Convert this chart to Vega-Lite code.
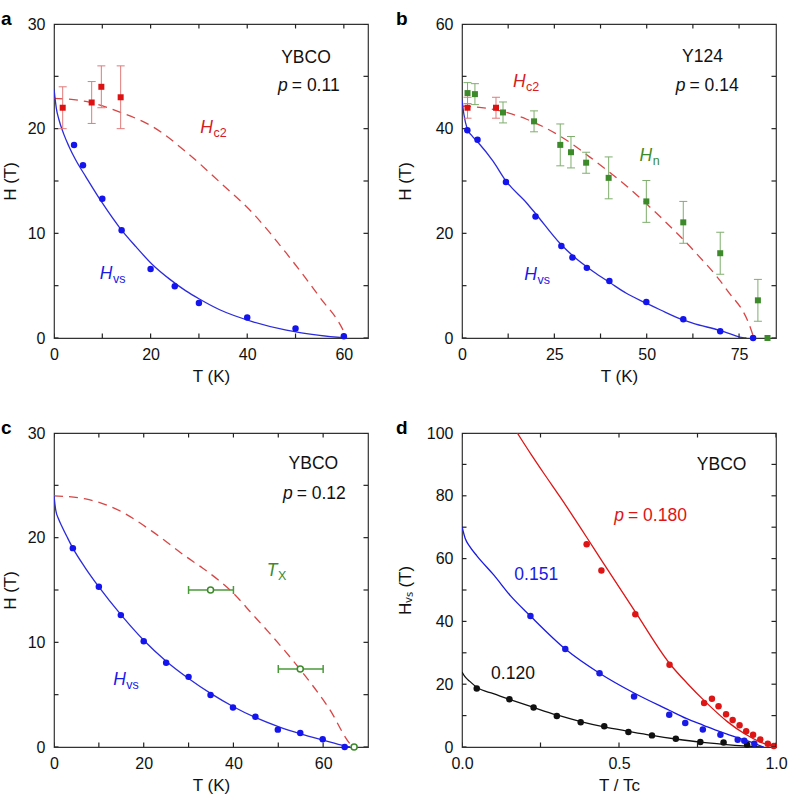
{
  "$schema": "https://vega.github.io/schema/vega-lite/v6.json",
  "padding": {"left": 0, "top": 9, "right": 0, "bottom": 0},
  "spacing": 32,
  "config": {
    "font": "Liberation Sans",
    "view": {"stroke": "#333333", "strokeWidth": 1.2},
    "axis": {"domain": false, "ticks": false, "tickSize": 0, "grid": false, "labelFont": "Liberation Sans", "labelFontSize": 16, "labelColor": "#111111", "titleFont": "Liberation Sans", "titleFontSize": 17, "titleFontWeight": "normal", "titleColor": "#111111", "labelOverlap": false, "labelFlush": false, "labelBound": false},
    "axisX": {"labelPadding": 8},
    "axisY": {"labelPadding": 9},
    "tick": {"thickness": 1.2, "size": 9, "color": "#222222", "opacity": 1},
    "title": {"font": "Liberation Sans", "fontSize": 19, "fontWeight": "bold", "color": "#000000", "anchor": "start", "frame": "bounds", "baseline": "alphabetic", "offset": -12.7},
    "text": {"font": "Liberation Sans"}
  },
  "datasets": {
    "aXt": [{"v":0},{"v":10},{"v":20},{"v":30},{"v":40},{"v":50},{"v":60}],
    "aYt": [{"v":0},{"v":5},{"v":10},{"v":15},{"v":20},{"v":25},{"v":30}],
    "bXt": [{"v":0},{"v":12.5},{"v":25},{"v":37.5},{"v":50},{"v":62.5},{"v":75}],
    "bYt": [{"v":0},{"v":10},{"v":20},{"v":30},{"v":40},{"v":50},{"v":60}],
    "dXt": [{"v":0},{"v":0.25},{"v":0.5},{"v":0.75},{"v":1}],
    "dYt": [{"v":0},{"v":10},{"v":20},{"v":30},{"v":40},{"v":50},{"v":60},{"v":70},{"v":80},{"v":90},{"v":100}],
    "aPts": [{"T":4.15,"H":18.45},{"T":6,"H":16.5},{"T":10,"H":13.3},{"T":14,"H":10.3},{"T":20,"H":6.6},{"T":25,"H":4.95},{"T":30,"H":3.35},{"T":40,"H":1.95},{"T":50,"H":0.9},{"T":60,"H":0.17}],
    "aFit": [{"T":0,"H":23.8},{"T":0.5,"H":21.9},{"T":1,"H":20.9},{"T":2,"H":19.5},{"T":3.1,"H":18.3},{"T":4.5,"H":17.0},{"T":6.6,"H":15.4},{"T":10,"H":12.9},{"T":13.5,"H":10.6},{"T":17,"H":8.7},{"T":20.4,"H":7.0},{"T":24,"H":5.6},{"T":27.3,"H":4.5},{"T":30,"H":3.75},{"T":34.3,"H":2.7},{"T":41.2,"H":1.55},{"T":48.1,"H":0.75},{"T":55,"H":0.25},{"T":60.3,"H":0}],
    "aHc2": [{"T":0,"H":22.9},{"T":6.6,"H":22.6},{"T":13.5,"H":21.6},{"T":20.4,"H":20.2},{"T":27.3,"H":17.8},{"T":34.3,"H":14.9},{"T":41.2,"H":11.9},{"T":48.1,"H":8.1},{"T":55,"H":3.9},{"T":59.9,"H":0.7},{"T":60.6,"H":0}],
    "aSq": [{"T":1.8,"H":22.0,"lo":20,"hi":24},{"T":7.8,"H":22.5,"lo":20.5,"hi":24.5},{"T":9.8,"H":24.0,"lo":22,"hi":26},{"T":13.8,"H":23.0,"lo":20,"hi":26}],
    "bPts": [{"T":1.45,"H":39.7},{"T":4.2,"H":37.9},{"T":11.9,"H":29.8},{"T":19.9,"H":23.2},{"T":26.9,"H":17.6},{"T":29.9,"H":15.4},{"T":33.8,"H":13.4},{"T":39.9,"H":10.9},{"T":49.9,"H":6.9},{"T":59.9,"H":3.6},{"T":69.9,"H":1.3},{"T":78.8,"H":0}],
    "bFit": [{"T":0,"H":45.6},{"T":0.5,"H":42.8},{"T":1.45,"H":39.9},{"T":2.5,"H":38.8},{"T":4.2,"H":37.5},{"T":8.4,"H":33.8},{"T":11.9,"H":30.0},{"T":17.5,"H":25.8},{"T":20,"H":23.7},{"T":26.5,"H":18.1},{"T":30,"H":15.7},{"T":35.5,"H":12.7},{"T":40,"H":10.6},{"T":44.6,"H":8.5},{"T":50,"H":6.6},{"T":53.6,"H":5.4},{"T":60,"H":3.4},{"T":62.6,"H":2.8},{"T":70,"H":1.4},{"T":73,"H":0.7},{"T":76,"H":0.05},{"T":77,"H":0}],
    "bHc2": [{"T":0,"H":44.3},{"T":8.4,"H":43.7},{"T":17.5,"H":41.8},{"T":26.5,"H":38.6},{"T":35.5,"H":34.1},{"T":44.6,"H":29.0},{"T":53.6,"H":23.2},{"T":62.6,"H":16.8},{"T":71.7,"H":9.2},{"T":78,"H":2.1},{"T":79,"H":0}],
    "bRed": [{"T":1.5,"H":44.0,"lo":42,"hi":46},{"T":9.2,"H":44.0,"lo":42,"hi":46}],
    "bGreen": [{"T":1.5,"H":46.8,"lo":44.8,"hi":48.8},{"T":3.5,"H":46.6,"lo":44.6,"hi":48.6},{"T":11.1,"H":43.1,"lo":41.1,"hi":45.1},{"T":19.5,"H":41.4,"lo":39.4,"hi":43.4},{"T":26.6,"H":36.9,"lo":32.9,"hi":40.9},{"T":29.5,"H":35.5,"lo":32.5,"hi":38.5},{"T":33.6,"H":33.5,"lo":31.5,"hi":35.5},{"T":39.7,"H":30.6,"lo":26.6,"hi":34.6},{"T":49.9,"H":26.1,"lo":22.1,"hi":30.1},{"T":59.9,"H":22.1,"lo":18.1,"hi":26.1},{"T":69.9,"H":16.2,"lo":12.2,"hi":20.2},{"T":80.1,"H":7.2,"lo":3.2,"hi":11.2},{"T":82.7,"H":0,"lo":null,"hi":null}],
    "cPts": [{"T":4.2,"H":19.0},{"T":10,"H":15.3},{"T":14.9,"H":12.6},{"T":20,"H":10.1},{"T":25,"H":8.06},{"T":30,"H":6.7},{"T":34.9,"H":4.96},{"T":39.9,"H":3.77},{"T":44.9,"H":2.88},{"T":49.9,"H":1.66},{"T":54.9,"H":1.34},{"T":59.9,"H":0.74},{"T":64.8,"H":0}],
    "cFit": [{"T":0,"H":24.0},{"T":0.4,"H":22.6},{"T":1,"H":21.8},{"T":1.85,"H":21.0},{"T":3,"H":20.0},{"T":4.2,"H":19.0},{"T":7,"H":17.1},{"T":10,"H":15.3},{"T":15,"H":12.6},{"T":20,"H":10.2},{"T":25,"H":8.2},{"T":30,"H":6.55},{"T":35,"H":5.1},{"T":40,"H":3.85},{"T":45,"H":2.8},{"T":50,"H":1.95},{"T":55,"H":1.25},{"T":60,"H":0.65},{"T":64.8,"H":0.1},{"T":66,"H":0}],
    "cHc2": [{"T":0,"H":24.0},{"T":7.05,"H":23.7},{"T":14.5,"H":22.6},{"T":21.9,"H":20.6},{"T":29.4,"H":18.2},{"T":33.1,"H":17.1},{"T":36.8,"H":15.9},{"T":40.2,"H":14.6},{"T":44,"H":12.8},{"T":48,"H":10.9},{"T":54.7,"H":7.5},{"T":61.3,"H":3.7},{"T":66.5,"H":0.1},{"T":66.8,"H":0}],
    "cTx": [{"T":34.9,"H":15.0,"lo":30,"hi":40},{"T":54.9,"H":7.45,"lo":50,"hi":60},{"T":66.9,"H":0,"lo":null,"hi":null}],
    "dPts": [
      {"x":0.047,"y":18.6,"k":"0.120"},{"x":0.151,"y":15.2,"k":"0.120"},{"x":0.228,"y":12.6,"k":"0.120"},{"x":0.302,"y":9.9,"k":"0.120"},{"x":0.378,"y":7.9,"k":"0.120"},{"x":0.453,"y":6.6,"k":"0.120"},{"x":0.53,"y":4.8,"k":"0.120"},{"x":0.605,"y":3.7,"k":"0.120"},{"x":0.681,"y":2.66,"k":"0.120"},{"x":0.759,"y":1.6,"k":"0.120"},{"x":0.833,"y":1.4,"k":"0.120"},{"x":0.908,"y":0.75,"k":"0.120"},
      {"x":0.218,"y":41.7,"k":"0.151"},{"x":0.329,"y":31.2,"k":"0.151"},{"x":0.438,"y":23.5,"k":"0.151"},{"x":0.548,"y":16.1,"k":"0.151"},{"x":0.66,"y":10.3,"k":"0.151"},{"x":0.711,"y":7.66,"k":"0.151"},{"x":0.767,"y":5.6,"k":"0.151"},{"x":0.823,"y":3.9,"k":"0.151"},{"x":0.878,"y":2.3,"k":"0.151"},{"x":0.899,"y":2.0,"k":"0.151"},{"x":0.931,"y":1.06,"k":"0.151"},
      {"x":0.397,"y":64.6,"k":"0.180"},{"x":0.444,"y":56.2,"k":"0.180"},{"x":0.552,"y":42.3,"k":"0.180"},{"x":0.661,"y":26.2,"k":"0.180"},{"x":0.771,"y":14.0,"k":"0.180"},{"x":0.796,"y":15.4,"k":"0.180"},{"x":0.817,"y":13.0,"k":"0.180"},{"x":0.841,"y":10.4,"k":"0.180"},{"x":0.862,"y":8.6,"k":"0.180"},{"x":0.884,"y":6.9,"k":"0.180"},{"x":0.905,"y":5.0,"k":"0.180"},{"x":0.927,"y":3.9,"k":"0.180"},{"x":0.95,"y":2.4,"k":"0.180"},{"x":0.974,"y":1.06,"k":"0.180"},{"x":0.993,"y":0.3,"k":"0.180"}
    ],
    "dFit": [
      {"x":0,"y":23.9,"k":"0.120"},{"x":0.01,"y":22.3,"k":"0.120"},{"x":0.025,"y":20.9,"k":"0.120"},{"x":0.047,"y":19.0,"k":"0.120"},{"x":0.1,"y":17.0,"k":"0.120"},{"x":0.151,"y":15.2,"k":"0.120"},{"x":0.228,"y":12.6,"k":"0.120"},{"x":0.302,"y":10.2,"k":"0.120"},{"x":0.378,"y":8.1,"k":"0.120"},{"x":0.453,"y":6.4,"k":"0.120"},{"x":0.53,"y":5.0,"k":"0.120"},{"x":0.605,"y":3.7,"k":"0.120"},{"x":0.681,"y":2.55,"k":"0.120"},{"x":0.759,"y":1.55,"k":"0.120"},{"x":0.833,"y":0.85,"k":"0.120"},{"x":0.908,"y":0.3,"k":"0.120"},{"x":0.96,"y":0,"k":"0.120"},
      {"x":0,"y":70.2,"k":"0.151"},{"x":0.01,"y":66.5,"k":"0.151"},{"x":0.025,"y":63.8,"k":"0.151"},{"x":0.048,"y":60.8,"k":"0.151"},{"x":0.101,"y":54.8,"k":"0.151"},{"x":0.154,"y":48.2,"k":"0.151"},{"x":0.218,"y":41.7,"k":"0.151"},{"x":0.329,"y":31.2,"k":"0.151"},{"x":0.438,"y":23.5,"k":"0.151"},{"x":0.548,"y":17.2,"k":"0.151"},{"x":0.66,"y":11.7,"k":"0.151"},{"x":0.714,"y":9.1,"k":"0.151"},{"x":0.769,"y":6.9,"k":"0.151"},{"x":0.823,"y":4.8,"k":"0.151"},{"x":0.879,"y":2.9,"k":"0.151"},{"x":0.933,"y":1.1,"k":"0.151"},{"x":0.96,"y":0,"k":"0.151"},
      {"x":0.163,"y":102,"k":"0.180"},{"x":0.176,"y":100,"k":"0.180"},{"x":0.22,"y":93.2,"k":"0.180"},{"x":0.261,"y":87.1,"k":"0.180"},{"x":0.314,"y":79.4,"k":"0.180"},{"x":0.397,"y":66.8,"k":"0.180"},{"x":0.444,"y":59.5,"k":"0.180"},{"x":0.552,"y":43.0,"k":"0.180"},{"x":0.661,"y":26.6,"k":"0.180"},{"x":0.72,"y":20.0,"k":"0.180"},{"x":0.773,"y":14.6,"k":"0.180"},{"x":0.846,"y":8.0,"k":"0.180"},{"x":0.9,"y":4.2,"k":"0.180"},{"x":0.952,"y":1.5,"k":"0.180"},{"x":1.0,"y":0,"k":"0.180"}
    ],
    "labels": [
      {"panel":"a","x":46.2,"y":26.3,"it":"","sub":"","norm":"YBCO","k":"text"},
      {"panel":"a","x":48.4,"y":23.6,"it":"p","sub":"","norm":"= 0.11","k":"text"},
      {"panel":"a","x":32.9,"y":19.6,"it":"H","sub":"c2","norm":"","k":"Hc2"},
      {"panel":"a","x":12.1,"y":5.6,"it":"H","sub":"vs","norm":"","k":"Hvs"},
      {"panel":"b","x":58.5,"y":52.8,"it":"","sub":"","norm":"Y124","k":"text"},
      {"panel":"b","x":60.5,"y":47.2,"it":"p","sub":"","norm":"= 0.14","k":"text"},
      {"panel":"b","x":17.2,"y":47.9,"it":"H","sub":"c2","norm":"","k":"Hc2"},
      {"panel":"b","x":51.5,"y":33.8,"it":"H","sub":"n","norm":"","k":"Hn"},
      {"panel":"b","x":20.3,"y":11.1,"it":"H","sub":"vs","norm":"","k":"Hvs"},
      {"panel":"c","x":51.4,"y":26.55,"it":"","sub":"","norm":"YBCO","k":"text"},
      {"panel":"c","x":53.2,"y":23.7,"it":"p","sub":"","norm":"= 0.12","k":"text"},
      {"panel":"c","x":49.8,"y":16.3,"it":"T","sub":"X","norm":"","k":"TX"},
      {"panel":"c","x":16.0,"y":5.9,"it":"H","sub":"vs","norm":"","k":"Hvs"},
      {"panel":"d","x":0.735,"y":88.3,"it":"","sub":"","norm":"YBCO","k":"text"},
      {"panel":"d","x":0.516,"y":72.0,"it":"p","sub":"","norm":"= 0.180","k":"0.180"},
      {"panel":"d","x":0.154,"y":53.2,"it":"","sub":"","norm":"0.151","k":"0.151"},
      {"panel":"d","x":0.080,"y":21.6,"it":"","sub":"","norm":"0.120","k":"0.120"}
    ]
  },
  "vconcat": [
    {
      "spacing": 26,
      "hconcat": [
        {
          "width": 314, "height": 314,
          "title": {"text": "a"},
          "layer": [
            {"data": {"name": "aHc2"},
             "mark": {"type": "line", "color": "#d94545", "strokeWidth": 1.3, "strokeDash": [9, 6], "interpolate": "monotone", "clip": true},
             "encoding": {
               "x": {"field": "T", "type": "quantitative", "scale": {"domain": [0, 65], "nice": false, "zero": false},
                     "axis": {"orient": "bottom", "values": [0, 20, 40, 60], "title": "T (K)", "minExtent": 24, "maxExtent": 24, "titlePadding": 6.5}},
               "y": {"field": "H", "type": "quantitative", "scale": {"domain": [0, 30], "nice": false, "zero": false},
                     "axis": {"orient": "left", "values": [0, 10, 20, 30], "title": "H (T)", "minExtent": 30, "maxExtent": 30, "titlePadding": 5}}}},
            {"data": {"name": "aFit"},
             "mark": {"type": "line", "color": "#2b2bdd", "strokeWidth": 1.3, "interpolate": "monotone", "clip": true},
             "encoding": {
               "x": {"field": "T", "type": "quantitative", "axis": {"orient": "top", "values": [0, 20, 40, 60], "labels": false, "title": null, "minExtent": 0, "maxExtent": 0}},
               "y": {"field": "H", "type": "quantitative", "axis": {"orient": "right", "values": [0, 10, 20, 30], "labels": false, "title": null, "minExtent": 0, "maxExtent": 0}}}},
            {"data": {"name": "aXt"}, "mark": {"type": "tick", "orient": "vertical", "clip": true},
             "encoding": {"x": {"field": "v", "type": "quantitative", "axis": null}, "y": {"datum": 0, "type": "quantitative", "axis": null}}},
            {"data": {"name": "aXt"}, "mark": {"type": "tick", "orient": "vertical", "clip": true},
             "encoding": {"x": {"field": "v", "type": "quantitative", "axis": null}, "y": {"datum": 30, "type": "quantitative", "axis": null}}},
            {"data": {"name": "aYt"}, "mark": {"type": "tick", "orient": "horizontal", "clip": true},
             "encoding": {"y": {"field": "v", "type": "quantitative", "axis": null}, "x": {"datum": 0, "type": "quantitative", "axis": null}}},
            {"data": {"name": "aYt"}, "mark": {"type": "tick", "orient": "horizontal", "clip": true},
             "encoding": {"y": {"field": "v", "type": "quantitative", "axis": null}, "x": {"datum": 65, "type": "quantitative", "axis": null}}},
            {"data": {"name": "aSq"},
             "mark": {"type": "errorbar", "rule": {"color": "#e07a7a", "strokeWidth": 1}, "ticks": {"color": "#e07a7a", "size": 8, "thickness": 1}},
             "encoding": {
               "x": {"field": "T", "type": "quantitative", "axis": null},
               "y": {"field": "lo", "type": "quantitative", "axis": null},
               "y2": {"field": "hi"}}},
            {"data": {"name": "aSq"},
             "mark": {"type": "square", "color": "#dd1111", "size": 36, "opacity": 1},
             "encoding": {"x": {"field": "T", "type": "quantitative", "axis": null}, "y": {"field": "H", "type": "quantitative", "axis": null}}},
            {"data": {"name": "aPts"},
             "mark": {"type": "circle", "color": "#1414ee", "size": 42, "opacity": 1},
             "encoding": {"x": {"field": "T", "type": "quantitative", "axis": null}, "y": {"field": "H", "type": "quantitative", "axis": null}}},
            {"data": {"name": "labels"},
             "transform": [{"filter": "datum.panel === 'a'"}],
             "encoding": {
               "x": {"field": "x", "type": "quantitative", "axis": null},
               "y": {"field": "y", "type": "quantitative", "axis": null},
               "color": {"field": "k", "type": "nominal", "legend": null, "scale": {"domain": ["text", "Hvs", "Hc2", "Hn", "TX", "0.180", "0.151", "0.120"], "range": ["#111111", "#1a1ae6", "#d42020", "#3d8a2b", "#3d8a2b", "#dd1515", "#1a1ae6", "#111111"]}}},
             "layer": [
               {"mark": {"type": "text", "fontStyle": "italic", "fontSize": 17.5, "align": "right", "baseline": "alphabetic"}, "encoding": {"text": {"field": "it", "type": "nominal"}}},
               {"mark": {"type": "text", "fontSize": 12.5, "align": "left", "baseline": "alphabetic", "dy": 4, "dx": 0.5}, "encoding": {"text": {"field": "sub", "type": "nominal"}}},
               {"mark": {"type": "text", "fontSize": 17.5, "align": "left", "baseline": "alphabetic", "dx": 4}, "encoding": {"text": {"field": "norm", "type": "nominal"}}}
             ]}
          ]
        },
        {
          "width": 314, "height": 314,
          "title": {"text": "b"},
          "layer": [
            {"data": {"name": "bHc2"},
             "mark": {"type": "line", "color": "#d94545", "strokeWidth": 1.3, "strokeDash": [9, 6], "interpolate": "monotone", "clip": true},
             "encoding": {
               "x": {"field": "T", "type": "quantitative", "scale": {"domain": [0, 85], "nice": false, "zero": false},
                     "axis": {"orient": "bottom", "values": [0, 25, 50, 75], "title": "T (K)", "minExtent": 24, "maxExtent": 24, "titlePadding": 6.5}},
               "y": {"field": "H", "type": "quantitative", "scale": {"domain": [0, 60], "nice": false, "zero": false},
                     "axis": {"orient": "left", "values": [0, 20, 40, 60], "title": "H (T)", "minExtent": 30, "maxExtent": 30, "titlePadding": 18}}}},
            {"data": {"name": "bFit"},
             "mark": {"type": "line", "color": "#2b2bdd", "strokeWidth": 1.3, "interpolate": "monotone", "clip": true},
             "encoding": {
               "x": {"field": "T", "type": "quantitative", "axis": {"orient": "top", "values": [0, 25, 50, 75], "labels": false, "title": null, "minExtent": 0, "maxExtent": 0}},
               "y": {"field": "H", "type": "quantitative", "axis": {"orient": "right", "values": [0, 20, 40, 60], "labels": false, "title": null, "minExtent": 0, "maxExtent": 0}}}},
            {"data": {"name": "bXt"}, "mark": {"type": "tick", "orient": "vertical", "clip": true},
             "encoding": {"x": {"field": "v", "type": "quantitative", "axis": null}, "y": {"datum": 0, "type": "quantitative", "axis": null}}},
            {"data": {"name": "bXt"}, "mark": {"type": "tick", "orient": "vertical", "clip": true},
             "encoding": {"x": {"field": "v", "type": "quantitative", "axis": null}, "y": {"datum": 60, "type": "quantitative", "axis": null}}},
            {"data": {"name": "bYt"}, "mark": {"type": "tick", "orient": "horizontal", "clip": true},
             "encoding": {"y": {"field": "v", "type": "quantitative", "axis": null}, "x": {"datum": 0, "type": "quantitative", "axis": null}}},
            {"data": {"name": "bYt"}, "mark": {"type": "tick", "orient": "horizontal", "clip": true},
             "encoding": {"y": {"field": "v", "type": "quantitative", "axis": null}, "x": {"datum": 85, "type": "quantitative", "axis": null}}},
            {"data": {"name": "bGreen"},
             "transform": [{"filter": "isValid(datum.lo)"}],
             "mark": {"type": "errorbar", "rule": {"color": "#7fae6e", "strokeWidth": 1}, "ticks": {"color": "#7fae6e", "size": 8, "thickness": 1}},
             "encoding": {
               "x": {"field": "T", "type": "quantitative", "axis": null},
               "y": {"field": "lo", "type": "quantitative", "axis": null},
               "y2": {"field": "hi"}}},
            {"data": {"name": "bRed"},
             "mark": {"type": "errorbar", "rule": {"color": "#e07a7a", "strokeWidth": 1}, "ticks": {"color": "#e07a7a", "size": 8, "thickness": 1}},
             "encoding": {
               "x": {"field": "T", "type": "quantitative", "axis": null},
               "y": {"field": "lo", "type": "quantitative", "axis": null},
               "y2": {"field": "hi"}}},
            {"data": {"name": "bGreen"},
             "mark": {"type": "square", "color": "#3d8a2b", "size": 36, "opacity": 1},
             "encoding": {"x": {"field": "T", "type": "quantitative", "axis": null}, "y": {"field": "H", "type": "quantitative", "axis": null}}},
            {"data": {"name": "bRed"},
             "mark": {"type": "square", "color": "#dd1111", "size": 36, "opacity": 1},
             "encoding": {"x": {"field": "T", "type": "quantitative", "axis": null}, "y": {"field": "H", "type": "quantitative", "axis": null}}},
            {"data": {"name": "bPts"},
             "mark": {"type": "circle", "color": "#1414ee", "size": 42, "opacity": 1},
             "encoding": {"x": {"field": "T", "type": "quantitative", "axis": null}, "y": {"field": "H", "type": "quantitative", "axis": null}}},
            {"data": {"name": "labels"},
             "transform": [{"filter": "datum.panel === 'b'"}],
             "encoding": {
               "x": {"field": "x", "type": "quantitative", "axis": null},
               "y": {"field": "y", "type": "quantitative", "axis": null},
               "color": {"field": "k", "type": "nominal", "legend": null, "scale": {"domain": ["text", "Hvs", "Hc2", "Hn", "TX", "0.180", "0.151", "0.120"], "range": ["#111111", "#1a1ae6", "#d42020", "#3d8a2b", "#3d8a2b", "#dd1515", "#1a1ae6", "#111111"]}}},
             "layer": [
               {"mark": {"type": "text", "fontStyle": "italic", "fontSize": 17.5, "align": "right", "baseline": "alphabetic"}, "encoding": {"text": {"field": "it", "type": "nominal"}}},
               {"mark": {"type": "text", "fontSize": 12.5, "align": "left", "baseline": "alphabetic", "dy": 4, "dx": 0.5}, "encoding": {"text": {"field": "sub", "type": "nominal"}}},
               {"mark": {"type": "text", "fontSize": 17.5, "align": "left", "baseline": "alphabetic", "dx": 4}, "encoding": {"text": {"field": "norm", "type": "nominal"}}}
             ]}
          ]
        }
      ]
    },
    {
      "spacing": 26,
      "hconcat": [
        {
          "width": 314, "height": 314,
          "title": {"text": "c"},
          "layer": [
            {"data": {"name": "cHc2"},
             "mark": {"type": "line", "color": "#d94545", "strokeWidth": 1.3, "strokeDash": [9, 6], "interpolate": "monotone", "clip": true},
             "encoding": {
               "x": {"field": "T", "type": "quantitative", "scale": {"domain": [0, 70], "nice": false, "zero": false},
                     "axis": {"orient": "bottom", "values": [0, 20, 40, 60], "title": "T (K)", "minExtent": 24, "maxExtent": 24, "titlePadding": 6.5}},
               "y": {"field": "H", "type": "quantitative", "scale": {"domain": [0, 30], "nice": false, "zero": false},
                     "axis": {"orient": "left", "values": [0, 10, 20, 30], "title": "H (T)", "minExtent": 30, "maxExtent": 30, "titlePadding": 5}}}},
            {"data": {"name": "cFit"},
             "mark": {"type": "line", "color": "#2b2bdd", "strokeWidth": 1.3, "interpolate": "monotone", "clip": true},
             "encoding": {
               "x": {"field": "T", "type": "quantitative", "axis": {"orient": "top", "values": [0, 20, 40, 60], "labels": false, "title": null, "minExtent": 0, "maxExtent": 0}},
               "y": {"field": "H", "type": "quantitative", "axis": {"orient": "right", "values": [0, 10, 20, 30], "labels": false, "title": null, "minExtent": 0, "maxExtent": 0}}}},
            {"data": {"name": "aXt"}, "mark": {"type": "tick", "orient": "vertical", "clip": true},
             "encoding": {"x": {"field": "v", "type": "quantitative", "axis": null}, "y": {"datum": 0, "type": "quantitative", "axis": null}}},
            {"data": {"name": "aXt"}, "mark": {"type": "tick", "orient": "vertical", "clip": true},
             "encoding": {"x": {"field": "v", "type": "quantitative", "axis": null}, "y": {"datum": 30, "type": "quantitative", "axis": null}}},
            {"data": {"name": "aYt"}, "mark": {"type": "tick", "orient": "horizontal", "clip": true},
             "encoding": {"y": {"field": "v", "type": "quantitative", "axis": null}, "x": {"datum": 0, "type": "quantitative", "axis": null}}},
            {"data": {"name": "aYt"}, "mark": {"type": "tick", "orient": "horizontal", "clip": true},
             "encoding": {"y": {"field": "v", "type": "quantitative", "axis": null}, "x": {"datum": 70, "type": "quantitative", "axis": null}}},
            {"data": {"name": "cTx"},
             "transform": [{"filter": "isValid(datum.lo)"}],
             "mark": {"type": "errorbar", "rule": {"color": "#4a9a3a", "strokeWidth": 1.5}, "ticks": {"color": "#4a9a3a", "size": 8, "thickness": 1.5}},
             "encoding": {
               "y": {"field": "H", "type": "quantitative", "axis": null},
               "x": {"field": "lo", "type": "quantitative", "axis": null},
               "x2": {"field": "hi"}}},
            {"data": {"name": "cPts"},
             "mark": {"type": "circle", "color": "#1414ee", "size": 42, "opacity": 1},
             "encoding": {"x": {"field": "T", "type": "quantitative", "axis": null}, "y": {"field": "H", "type": "quantitative", "axis": null}}},
            {"data": {"name": "cTx"},
             "mark": {"type": "point", "shape": "circle", "filled": true, "fill": "#ffffff", "stroke": "#3d8a2b", "strokeWidth": 1.5, "size": 36, "opacity": 1},
             "encoding": {"x": {"field": "T", "type": "quantitative", "axis": null}, "y": {"field": "H", "type": "quantitative", "axis": null}}},
            {"data": {"name": "labels"},
             "transform": [{"filter": "datum.panel === 'c'"}],
             "encoding": {
               "x": {"field": "x", "type": "quantitative", "axis": null},
               "y": {"field": "y", "type": "quantitative", "axis": null},
               "color": {"field": "k", "type": "nominal", "legend": null, "scale": {"domain": ["text", "Hvs", "Hc2", "Hn", "TX", "0.180", "0.151", "0.120"], "range": ["#111111", "#1a1ae6", "#d42020", "#3d8a2b", "#3d8a2b", "#dd1515", "#1a1ae6", "#111111"]}}},
             "layer": [
               {"mark": {"type": "text", "fontStyle": "italic", "fontSize": 17.5, "align": "right", "baseline": "alphabetic"}, "encoding": {"text": {"field": "it", "type": "nominal"}}},
               {"mark": {"type": "text", "fontSize": 12.5, "align": "left", "baseline": "alphabetic", "dy": 4, "dx": 0.5}, "encoding": {"text": {"field": "sub", "type": "nominal"}}},
               {"mark": {"type": "text", "fontSize": 17.5, "align": "left", "baseline": "alphabetic", "dx": 4}, "encoding": {"text": {"field": "norm", "type": "nominal"}}}
             ]}
          ]
        },
        {
          "width": 314, "height": 314,
          "title": {"text": "d"},
          "layer": [
            {"data": {"name": "dFit"},
             "mark": {"type": "line", "strokeWidth": 1.3, "interpolate": "monotone", "clip": true},
             "encoding": {
               "x": {"field": "x", "type": "quantitative", "scale": {"domain": [0, 1], "nice": false, "zero": false},
                     "axis": {"orient": "bottom", "values": [0, 0.5, 1], "format": ".1f", "title": "T / Tc", "minExtent": 24, "maxExtent": 24, "titlePadding": 6.5}},
               "y": {"field": "y", "type": "quantitative", "scale": {"domain": [0, 100], "nice": false, "zero": false},
                     "axis": {"orient": "left", "values": [0, 20, 40, 60, 80, 100], "title": "Hᵥₛ (T)", "minExtent": 30, "maxExtent": 30, "titlePadding": 18}},
               "color": {"field": "k", "type": "nominal", "legend": null, "scale": {"domain": ["text", "Hvs", "Hc2", "Hn", "TX", "0.180", "0.151", "0.120"], "range": ["#111111", "#1a1ae6", "#d42020", "#3d8a2b", "#3d8a2b", "#dd1515", "#1a1ae6", "#111111"]}}}},
            {"data": {"name": "dPts"},
             "mark": {"type": "circle", "size": 42, "opacity": 1},
             "encoding": {
               "x": {"field": "x", "type": "quantitative", "axis": {"orient": "top", "values": [0, 0.5, 1], "labels": false, "title": null, "minExtent": 0, "maxExtent": 0}},
               "y": {"field": "y", "type": "quantitative", "axis": {"orient": "right", "values": [0, 20, 40, 60, 80, 100], "labels": false, "title": null, "minExtent": 0, "maxExtent": 0}},
               "color": {"field": "k", "type": "nominal", "legend": null, "scale": {"domain": ["text", "Hvs", "Hc2", "Hn", "TX", "0.180", "0.151", "0.120"], "range": ["#111111", "#1a1ae6", "#d42020", "#3d8a2b", "#3d8a2b", "#dd1515", "#1a1ae6", "#111111"]}}}},
            {"data": {"name": "dXt"}, "mark": {"type": "tick", "orient": "vertical", "clip": true},
             "encoding": {"x": {"field": "v", "type": "quantitative", "axis": null}, "y": {"datum": 0, "type": "quantitative", "axis": null}}},
            {"data": {"name": "dXt"}, "mark": {"type": "tick", "orient": "vertical", "clip": true},
             "encoding": {"x": {"field": "v", "type": "quantitative", "axis": null}, "y": {"datum": 100, "type": "quantitative", "axis": null}}},
            {"data": {"name": "dYt"}, "mark": {"type": "tick", "orient": "horizontal", "clip": true},
             "encoding": {"y": {"field": "v", "type": "quantitative", "axis": null}, "x": {"datum": 0, "type": "quantitative", "axis": null}}},
            {"data": {"name": "dYt"}, "mark": {"type": "tick", "orient": "horizontal", "clip": true},
             "encoding": {"y": {"field": "v", "type": "quantitative", "axis": null}, "x": {"datum": 1, "type": "quantitative", "axis": null}}},
            {"data": {"name": "labels"},
             "transform": [{"filter": "datum.panel === 'd'"}],
             "encoding": {
               "x": {"field": "x", "type": "quantitative", "axis": null},
               "y": {"field": "y", "type": "quantitative", "axis": null},
               "color": {"field": "k", "type": "nominal", "legend": null, "scale": {"domain": ["text", "Hvs", "Hc2", "Hn", "TX", "0.180", "0.151", "0.120"], "range": ["#111111", "#1a1ae6", "#d42020", "#3d8a2b", "#3d8a2b", "#dd1515", "#1a1ae6", "#111111"]}}},
             "layer": [
               {"mark": {"type": "text", "fontStyle": "italic", "fontSize": 17.5, "align": "right", "baseline": "alphabetic"}, "encoding": {"text": {"field": "it", "type": "nominal"}}},
               {"mark": {"type": "text", "fontSize": 12.5, "align": "left", "baseline": "alphabetic", "dy": 4, "dx": 0.5}, "encoding": {"text": {"field": "sub", "type": "nominal"}}},
               {"mark": {"type": "text", "fontSize": 17.5, "align": "left", "baseline": "alphabetic", "dx": 4}, "encoding": {"text": {"field": "norm", "type": "nominal"}}}
             ]}
          ]
        }
      ]
    }
  ]
}
